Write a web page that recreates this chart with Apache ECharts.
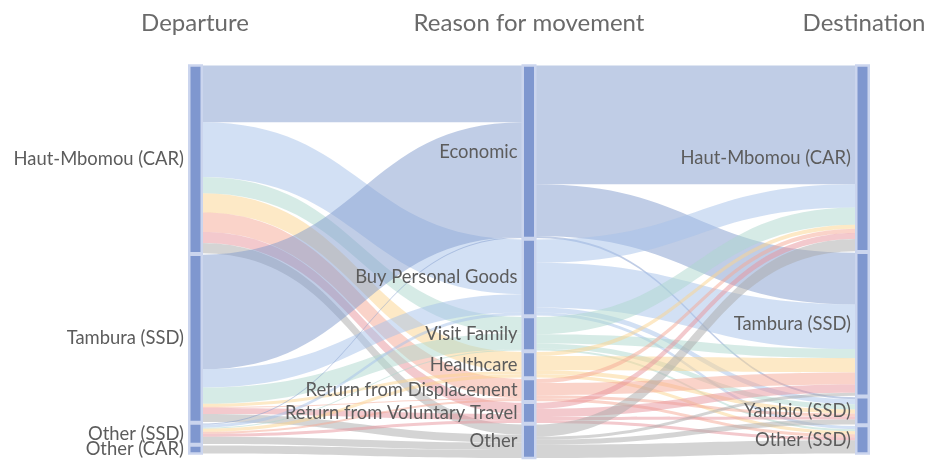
<!DOCTYPE html>
<html>
<head>
<meta charset="utf-8">
<title>Cross-border movement</title>
<script src="https://cdn.jsdelivr.net/npm/echarts@6/dist/echarts.min.js"></script>
<style>
  html, body { margin: 0; padding: 0; background: #ffffff; }
  #chart { width: 927px; height: 468px; }
</style>
</head>
<body>
<div id="chart"></div>
<script>
// Column headings
const columnTitles = ['Departure', 'Reason for movement', 'Destination'];

// Nodes of each column, top to bottom
const departures = ['Haut-Mbomou (CAR)', 'Tambura (SSD)', 'Other (SSD)', 'Other (CAR)'];
const reasons = ['Economic', 'Buy Personal Goods', 'Visit Family', 'Healthcare',
  'Return from Displacement', 'Return from Voluntary Travel', 'Other'];
const destinations = ['Haut-Mbomou (CAR)', 'Tambura (SSD)', 'Yambio (SSD)', 'Other (SSD)'];

// Flows departure -> reason (rows: departures, columns: reasons)
const departureToReason = [
  [56, 54, 16, 19, 19, 11, 10],
  [113, 18, 16, 3, 1, 6, 8],
  [1, 3, 1, 3, 2, 3, 7],
  [0, 0, 0, 0, 0, 0, 8]
];

// Flows reason -> destination (rows: reasons, columns: destinations)
const reasonToDestination = [
  [117, 51, 2, 0],
  [23, 44, 5, 3],
  [17, 9, 5, 2],
  [4, 14, 4, 3],
  [4, 12, 3, 3],
  [6, 8, 3, 3],
  [12, 3, 5, 13]
];

// Flow colour for each reason
const reasonColors = [
  'rgba(130,155,205,0.5)',
  'rgba(165,193,233,0.5)',
  'rgba(173,215,205,0.5)',
  'rgba(251,211,141,0.5)',
  'rgba(245,167,147,0.5)',
  'rgba(231,147,155,0.5)',
  'rgba(170,170,170,0.5)'
];

// Node ids are prefixed by column so that repeated names stay distinct
const nodes = [];
departures.forEach(n => nodes.push({ name: 'd:' + n, label: n, depth: 0 }));
reasons.forEach(n => nodes.push({ name: 'r:' + n, label: n, depth: 1 }));
destinations.forEach(n => nodes.push({ name: 't:' + n, label: n, depth: 2 }));

const links = [];
departureToReason.forEach((row, i) => row.forEach((v, j) => {
  if (v > 0) links.push({
    source: 'd:' + departures[i], target: 'r:' + reasons[j], value: v,
    lineStyle: { color: reasonColors[j], opacity: 1 }
  });
}));
reasonToDestination.forEach((row, i) => row.forEach((v, j) => {
  if (v > 0) links.push({
    source: 'r:' + reasons[i], target: 't:' + destinations[j], value: v,
    lineStyle: { color: reasonColors[i], opacity: 1 }
  });
}));

const labelByName = {};
nodes.forEach(n => { labelByName[n.name] = n.label; });

const chart = echarts.init(document.getElementById('chart'), null, { renderer: 'canvas' });

const titleStyle = { fontFamily: 'Lato', fontSize: 24, color: '#6a6a6a', fontWeight: 'normal' };
const titleCenters = ['190px', '524px', '859px'];

chart.setOption({
  backgroundColor: '#ffffff',
  animation: false,
  title: columnTitles.map((t, i) => ({
    text: t,
    left: titleCenters[i],
    top: 6,
    textAlign: 'center',
    textStyle: titleStyle
  })),
  series: [{
    type: 'sankey',
    left: 189.25,
    right: 58.25,
    top: 65.5,
    bottom: 10,
    nodeWidth: 12.5,
    nodeGap: 1.5,
    layoutIterations: 0,
    draggable: false,
    emphasis: { disabled: true },
    data: nodes.map(n => ({ name: n.name, depth: n.depth })),
    links: links,
    itemStyle: {
      color: '#7f97cf',
      borderColor: '#cbd5ee',
      borderWidth: 2.5
    },
    lineStyle: { curveness: 0.5 },
    label: {
      show: true,
      position: 'left',
      distance: 4,
      fontFamily: 'Lato',
      fontSize: 18.4,
      color: '#5c5c5c',
      formatter: p => labelByName[p.name]
    }
  }]
});
</script>
</body>
</html>
